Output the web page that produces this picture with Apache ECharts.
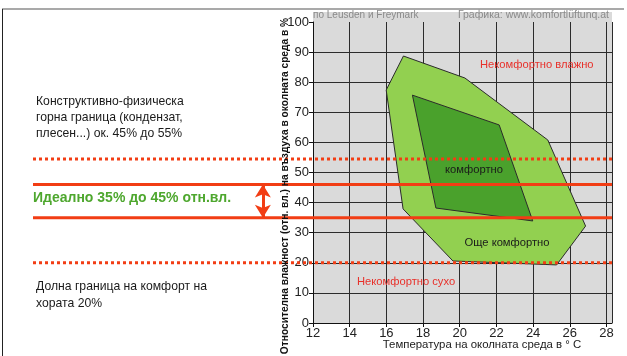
<!DOCTYPE html>
<html>
<head>
<meta charset="utf-8">
<script src="https://cdn.jsdelivr.net/npm/echarts@6/dist/echarts.min.js"></script>
<style>
    html, body { margin: 0; padding: 0; background: #fff; }
    #main_chart { width: 627px; height: 356px; }
</style>
</head>
<body>
<div id="main_chart"></div>
<script>
// Комфортни зони по Leusden и Freymark: [температура °C, отн. влажност %]
var outerZone = [[16.93, 88.7], [20.28, 81.4], [24.8, 60.8], [26.86, 32.2], [25.28, 19.3], [19.63, 20.6], [16.91, 37.9], [15.99, 77.4]];
var innerZone = [[17.42, 75.7], [22.15, 65.8], [23.98, 33.9], [18.7, 38.2]];

// Граници на влажността (отн. вл. %)
var upperLimit = 54.5;      // конструктивно-физическа горна граница
var idealTop = 46;
var idealBottom = 35;
var lowerLimit = 20;        // долна граница на комфорт

var FONT = "'Liberation Sans', Arial, sans-serif";
var RED = '#f23d14';

function zoneSeries(points, color, z) {
    return {
        type: 'custom',
        xAxisIndex: 0,
        yAxisIndex: 0,
        z: z,
        data: points,
        renderItem: function (params, api) {
            if (params.dataIndex !== 0) {
                return null;
            }
            var pts = points.map(function (p) { return api.coord(p); });
            return {
                type: 'polygon',
                shape: {points: pts},
                style: {fill: color, stroke: '#2b2b2b', lineWidth: 1}
            };
        }
    };
}

function limitSeries(value, dotted) {
    return {
        type: 'line',
        xAxisIndex: 1,
        yAxisIndex: 1,
        z: 20,
        silent: true,
        symbol: 'none',
        data: [[0, value], [100, value]],
        lineStyle: {color: RED, width: 3, type: dotted ? [3, 3] : 'solid'}
    };
}

function label(text, x, y, style) {
    return {
        type: 'text',
        x: x,
        y: y,
        z: 100,
        style: Object.assign({text: text, fontFamily: FONT, fontSize: 11.2, fill: '#1a1a1a'}, style || {})
    };
}

var axisText = {fontFamily: FONT, fontSize: 13, color: '#222'};

var option = {
    animation: false,
    grid: [
        {left: 313, right: 15, top: 22, bottom: 33, show: true, backgroundColor: '#dadada', borderWidth: 0},
        {left: 33, right: 15, top: 22, bottom: 33}
    ],
    xAxis: [{
        gridIndex: 0,
        type: 'value',
        min: 12,
        max: 28.3,
        interval: 2,
        axisLine: {show: true, lineStyle: {color: '#111', width: 1}},
        axisTick: {show: true, length: 4, lineStyle: {color: '#111'}},
        axisLabel: Object.assign({margin: 4, showMaxLabel: false}, axisText),
        splitLine: {show: true, lineStyle: {color: '#2b2b2b', width: 1}}
    }, {
        gridIndex: 1,
        type: 'value',
        min: 0,
        max: 100,
        show: false
    }],
    yAxis: [{
        gridIndex: 0,
        type: 'value',
        min: 0,
        max: 100,
        interval: 10,
        axisLine: {show: true, lineStyle: {color: '#111', width: 1}},
        axisTick: {show: true, length: 4, lineStyle: {color: '#111'}},
        axisLabel: Object.assign({margin: 4}, axisText),
        splitLine: {show: true, showMaxLine: false, lineStyle: {color: '#2b2b2b', width: 1}}
    }, {
        gridIndex: 1,
        type: 'value',
        min: 0,
        max: 100,
        show: false
    }],
    series: [
        zoneSeries(outerZone, '#92d050', 5),
        zoneSeries(innerZone, '#4aa12c', 6),
        limitSeries(upperLimit, true),
        limitSeries(idealTop, false),
        limitSeries(idealBottom, false),
        limitSeries(lowerLimit, true),
        {
            // двойна стрелка за идеалния диапазон
            type: 'line',
            xAxisIndex: 1,
            yAxisIndex: 1,
            z: 21,
            data: [],
            markLine: {
                silent: true,
                symbol: ['arrow', 'arrow'],
                symbolSize: [12, 13],
                label: {show: false},
                lineStyle: {color: RED, width: 3, type: 'solid'},
                data: [[{coord: [39.7, idealTop]}, {coord: [39.7, idealBottom]}]]
            }
        }
    ],
    graphic: [
        // рамка
        {type: 'line', shape: {x1: 2, y1: 9, x2: 624, y2: 9}, style: {stroke: '#8c8c8c', lineWidth: 1.5}},
        {type: 'line', shape: {x1: 2.5, y1: 9, x2: 2.5, y2: 356}, style: {stroke: '#222', lineWidth: 1}},
        // сива лента над 100 %
        {type: 'rect', shape: {x: 313, y: 12, width: 299, height: 10}, style: {fill: '#dadada'}, z: -1},
        label('по Leusden и Freymark', 313, 15, {fontSize: 10, fill: '#8a8a8a', verticalAlign: 'middle'}),
        label('Графика: www.komfortlüftunq.at', 609, 15, {fontSize: 10.5, fill: '#8a8a8a', align: 'right', verticalAlign: 'middle'}),
        label('Некомфортно влажно', 480, 65, {fill: '#e8302a', verticalAlign: 'middle'}),
        label('комфортно', 474, 170, {align: 'center', verticalAlign: 'middle'}),
        label('Още комфортно', 507, 243, {align: 'center', verticalAlign: 'middle'}),
        label('Некомфортно сухо', 357, 282, {fill: '#e8302a', verticalAlign: 'middle'}),
        // имена на осите
        label('Температура на околната среда в ° С', 482, 345, {fontSize: 11.4, align: 'center', verticalAlign: 'middle'}),
        {
            type: 'text',
            x: 285,
            y: 186,
            rotation: Math.PI / 2,
            z: 100,
            style: {
                text: 'Относителна влажност (отн. вл.) на въздуха в околната среда в %',
                fontFamily: FONT, fontSize: 10.2, fontWeight: 'bold', fill: '#111',
                align: 'center', verticalAlign: 'middle'
            }
        },
        // лява колона с обяснения
        label('Конструктивно-физическа\nгорна граница (кондензат,\nплесен...) ок. 45% до 55%', 36, 94, {fontSize: 12.2, lineHeight: 16}),
        label('Идеално 35% до 45% отн.вл.', 33, 198, {fontSize: 14, fontWeight: 'bold', fill: '#4ea72e', verticalAlign: 'middle'}),
        label('Долна граница на комфорт на\nхората 20%', 36, 278, {fontSize: 12.2, lineHeight: 17})
    ]
};

echarts.init(document.getElementById('main_chart')).setOption(option);
</script>
</body>
</html>
